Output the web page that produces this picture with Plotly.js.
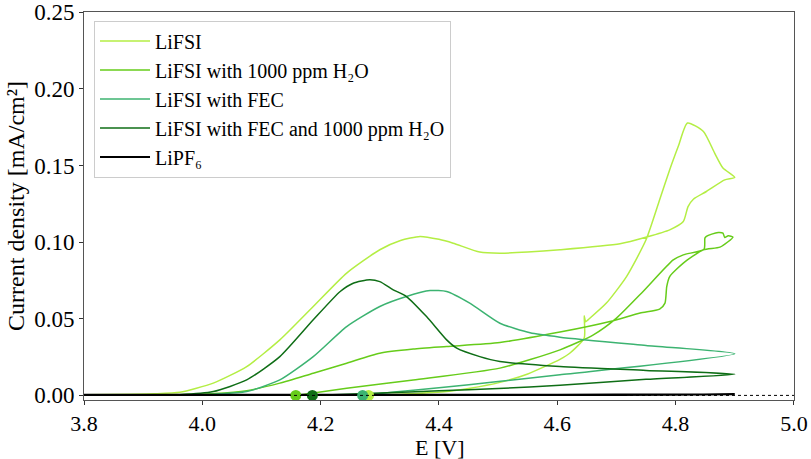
<!DOCTYPE html>
<html>
<head>
<meta charset="utf-8">
<script src="https://cdn.plot.ly/plotly-3.0.1.min.js"></script>
<style>
  html, body { margin: 0; padding: 0; background: #fff; }
  #chart { width: 811px; height: 459px; }
  #chart text { font-family: "Liberation Serif", "Times New Roman", Times, serif !important; }
</style>
</head>
<body>
<div id="chart"></div>
<script>
// Linear sweep voltammetry: forward scan 3.8 -> 4.9 V, then back.

const seriesNames = [
  'LiFSI',
  'LiFSI with 1000 ppm H\u2082O',
  'LiFSI with FEC',
  'LiFSI with FEC and 1000 ppm H\u2082O',
  'LiPF\u2086'
];
const seriesColors = ['#b4ee44', '#66cc1a', '#3cb371', '#0f6e16', '#000000'];

// LiFSI
const eLiFSI = [3.80, 3.88, 3.92, 3.962, 4.0185, 4.075, 4.131, 4.1875, 4.244, 4.300, 4.335, 4.368, 4.40, 4.424, 4.469, 4.503, 4.55, 4.6045,
  4.706, 4.751, 4.790, 4.813, 4.821, 4.830, 4.852, 4.883, 4.900,
  4.880, 4.866, 4.847, 4.820, 4.805, 4.790, 4.773, 4.750, 4.717, 4.683, 4.652, 4.648, 4.6455, 4.6455, 4.621, 4.6045,
  4.55, 4.503, 4.45, 4.413, 4.35, 4.281];
const jLiFSI = [0.0005, 0.0007, 0.0010, 0.0020, 0.0080, 0.0188, 0.0362, 0.0580, 0.0798, 0.0950, 0.1010, 0.1037, 0.1018, 0.0993, 0.0935, 0.0928, 0.0935, 0.0950,
  0.0989, 0.1033, 0.1080, 0.1134, 0.1232, 0.1280, 0.1330, 0.1406, 0.1422,
  0.1483, 0.1580, 0.1722, 0.1777, 0.1630, 0.1472, 0.1276, 0.1015, 0.0775, 0.0602, 0.0493, 0.0480, 0.0519, 0.0375, 0.0275, 0.0235,
  0.0140, 0.0085, 0.0045, 0.0025, 0.0010, 0.0000];

// LiFSI with 1000 ppm H2O
const eH2O = [3.80, 3.95, 4.02, 4.075, 4.131, 4.1875, 4.244, 4.300, 4.3565, 4.413, 4.503, 4.6045, 4.689, 4.740, 4.773, 4.782, 4.785, 4.790, 4.813, 4.847, 4.875, 4.897,
  4.889, 4.883, 4.880, 4.872, 4.861, 4.852, 4.8495, 4.848, 4.813, 4.796, 4.745, 4.700, 4.661, 4.6045, 4.503, 4.3565, 4.244, 4.158];
const jH2O = [0.0003, 0.0004, 0.0012, 0.0031, 0.0080, 0.0145, 0.0210, 0.0275, 0.0302, 0.0319, 0.0345, 0.0413, 0.0482, 0.0537, 0.0563, 0.0602, 0.0710, 0.0775, 0.0863, 0.0950, 0.0967, 0.1033,
  0.1041, 0.1030, 0.1059, 0.1063, 0.1052, 0.1037, 0.1026, 0.0954, 0.0917, 0.0884, 0.0678, 0.0504, 0.0395, 0.0297, 0.0178, 0.0101, 0.0047, 0.0000];

// LiFSI with FEC
const eFEC = [3.80, 3.962, 4.02, 4.075, 4.131, 4.1875, 4.244, 4.300, 4.345, 4.385, 4.413, 4.452, 4.503, 4.554, 4.6045, 4.75, 4.90,
  4.6045, 4.50, 4.40, 4.32, 4.271];
const jFEC = [0.0002, 0.0003, 0.0008, 0.0025, 0.0101, 0.0253, 0.0449, 0.0580, 0.0645, 0.0684, 0.0678, 0.0602, 0.0471, 0.0408, 0.0380, 0.0325, 0.0271,
  0.0134, 0.0090, 0.0050, 0.0020, 0.0000];

// LiFSI with FEC and 1000 ppm H2O
const eFECH2O = [3.80, 3.962, 4.0185, 4.075, 4.131, 4.1875, 4.233, 4.255, 4.283, 4.300, 4.3227, 4.345, 4.379, 4.413, 4.430, 4.469, 4.503, 4.6045, 4.75, 4.90,
  4.75, 4.6045, 4.50, 4.40, 4.30, 4.186];
const jFECH2O = [0.0003, 0.0005, 0.0025, 0.0101, 0.0253, 0.0493, 0.0678, 0.0732, 0.0754, 0.0742, 0.0689, 0.0645, 0.0514, 0.0362, 0.0308, 0.0253, 0.0221, 0.0188, 0.0163, 0.0138,
  0.0105, 0.0066, 0.0045, 0.0030, 0.0015, 0.0000];

// LiPF6
const eLiPF6 = [3.80, 4.00, 4.20, 4.40, 4.60, 4.80, 4.90, 4.70, 4.50, 4.30, 4.10, 3.90, 3.80];
const jLiPF6 = [0.0004, 0.0004, 0.0004, 0.0005, 0.0005, 0.0006, 0.0007, 0.0003, 0.0002, 0.0002, 0.0002, 0.0002, 0.0002];

// Onset potentials marked on the zero line
const onsetE = [4.281, 4.158, 4.271, 4.186];
const onsetJ = [0, 0, 0, 0];
const onsetColors = [seriesColors[0], seriesColors[1], seriesColors[2], seriesColors[3]];

// Tick labels
const xTicks = [3.8, 4.0, 4.2, 4.4, 4.6, 4.8, 5.0];
const xTickText = ['3.8', '4.0', '4.2', '4.4', '4.6', '4.8', '5.0'];
const yTicks = [0, 0.05, 0.10, 0.15, 0.20, 0.25];
const yTickText = ['0.00', '0.05', '0.10', '0.15', '0.20', '0.25'];

const xs = [eLiFSI, eH2O, eFEC, eFECH2O, eLiPF6];
const ys = [jLiFSI, jH2O, jFEC, jFECH2O, jLiPF6];
const widths = [1.5, 1.5, 1.5, 1.5, 2];

const traces = xs.map((x, i) => ({
  type: 'scatter',
  mode: 'lines',
  x: x,
  y: ys[i],
  name: seriesNames[i],
  line: { color: seriesColors[i], width: widths[i], shape: 'spline', smoothing: 0.6 },
  hoverinfo: 'x+y+name'
}));

traces.push({
  type: 'scatter',
  mode: 'markers',
  x: onsetE,
  y: onsetJ,
  showlegend: false,
  marker: { color: onsetColors, size: 11, line: { width: 0 } },
  cliponaxis: false,
  hoverinfo: 'x'
});

const serif = '"Liberation Serif", "Times New Roman", Times, serif';

const layout = {
  width: 811,
  height: 459,
  margin: { l: 84, r: 17, t: 12, b: 59 },
  paper_bgcolor: '#ffffff',
  plot_bgcolor: '#ffffff',
  font: { family: serif, size: 22, color: '#000' },
  showlegend: true,
  legend: {
    x: 0.0141, y: 0.978, xanchor: 'left', yanchor: 'top',
    bgcolor: 'rgba(255,255,255,0.9)',
    bordercolor: '#cccccc', borderwidth: 1,
    font: { size: 20 },
    itemwidth: 50
  },
  xaxis: {
    range: [3.8, 5.0001],
    tickmode: 'array', tickvals: xTicks, ticktext: xTickText,
    ticks: 'outside', ticklen: 4, tickwidth: 1, tickcolor: '#333',
    ticklabeloverflow: 'allow',
    showline: true, linecolor: '#555', linewidth: 1, mirror: true,
    showgrid: false, zeroline: false,
    tickfont: { size: 22 }
  },
  yaxis: {
    range: [-0.003, 0.2501],
    tickmode: 'array', tickvals: yTicks, ticktext: yTickText,
    ticks: 'outside', ticklen: 4, tickwidth: 1, tickcolor: '#333',
    ticklabeloverflow: 'allow',
    showline: true, linecolor: '#555', linewidth: 1, mirror: true,
    showgrid: false, zeroline: false,
    tickfont: { size: 23 },
    title: { text: 'Current density [mA/cm\u00b2]', font: { size: 24 }, standoff: 2 }
  },
  annotations: [{
    text: 'E [V]', xref: 'paper', x: 0.5, yref: 'paper', y: 0,
    xanchor: 'center', yanchor: 'middle', yshift: -47, showarrow: false,
    font: { size: 22, color: '#000' }
  }],
  shapes: [{
    type: 'line', xref: 'paper', x0: 0, x1: 1, yref: 'y', y0: 0, y1: 0,
    line: { color: '#000', width: 1, dash: 'dot' }, layer: 'above'
  }]
};

Plotly.newPlot('chart', traces, layout, { displayModeBar: false, staticPlot: true });
</script>
</body>
</html>
